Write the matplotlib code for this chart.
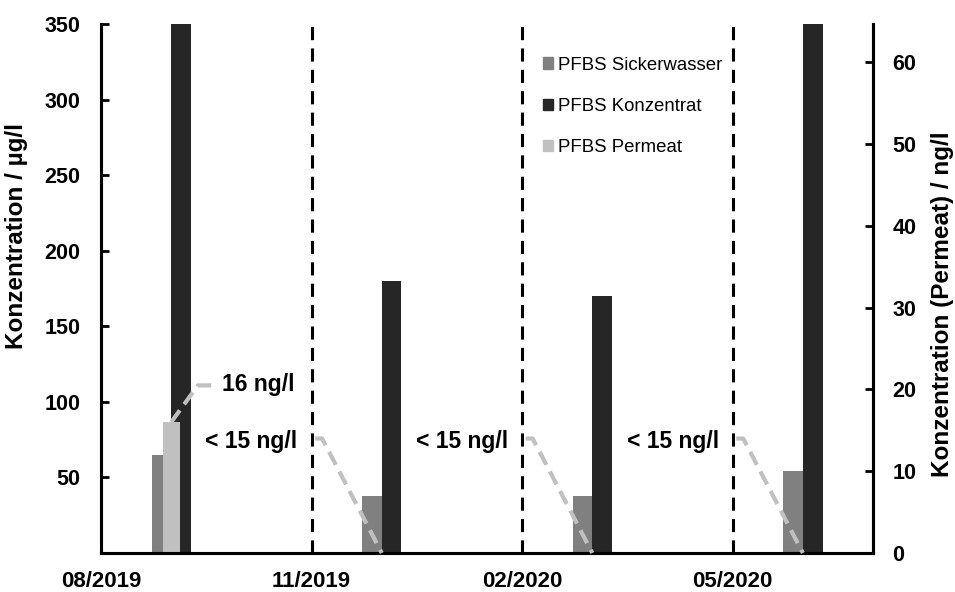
import matplotlib
matplotlib.use("Agg")
import matplotlib.pyplot as plt
from matplotlib.patches import Patch

plt.rcParams['font.family'] = ['Liberation Sans', 'DejaVu Sans']

# months since 08/2019
sample_month = [1, 4, 7, 10]
sickerwasser = [65, 38, 38, 54]        # µg/l
konzentrat = [350, 180, 170, 350]      # µg/l
permeat = [16, 0, 0, 0]                # ng/l
tick_month = [0, 3, 6, 9]
tick_labels = ["08/2019", "11/2019", "02/2020", "05/2020"]
note_labels = ["16 ng/l", "< 15 ng/l", "< 15 ng/l", "< 15 ng/l"]

c_sicker = '#808080'
c_konz = '#262626'
c_perm = '#c0c0c0'

fig = plt.figure(figsize=(9.55, 5.92), dpi=100)
ax = fig.add_axes([0.1058, 0.0659, 0.8084, 0.8936])
ax2 = ax.twinx()

w = 0.28
ax.bar([m - w / 2 for m in sample_month], sickerwasser, width=w, color=c_sicker, zorder=2)
ax.bar([m + w / 2 for m in sample_month], konzentrat, width=w, color=c_konz, zorder=2)
ax2.bar(sample_month, permeat, width=0.24, color=c_perm, zorder=2)

ax.set_xlim(0, 11)
ax.set_ylim(0, 350)
ax2.set_ylim(0, 64.7)

# dashed separators
for m in tick_month[1:]:
    ax.axvline(m, color='black', lw=2.2, linestyle=(0, (4.3, 2.7)), zorder=1)

ax.set_xticks(tick_month)
ax.set_xticklabels(tick_labels)
ax.set_yticks([50, 100, 150, 200, 250, 300, 350])
ax2.set_yticks([0, 10, 20, 30, 40, 50, 60])

ax.tick_params(axis='x', length=0, pad=13, labelsize=16)
ax.tick_params(axis='y', direction='in', length=6, width=2, pad=15, labelsize=15.5)
ax2.tick_params(axis='y', direction='in', length=6, width=2, pad=14, labelsize=15.5)
for lab in ax.get_xticklabels() + ax.get_yticklabels() + ax2.get_yticklabels():
    lab.set_fontweight('bold')

for a in (ax, ax2):
    a.spines['top'].set_visible(False)
    for s in ('left', 'right', 'bottom'):
        a.spines[s].set_linewidth(2.2)

ax.set_ylabel("Konzentration / µg/l", fontsize=17.5, fontweight='bold')
ax.yaxis.set_label_coords(-0.095, 0.60)
ax2.set_ylabel("Konzentration (Permeat) / ng/l", fontsize=17.5, fontweight='bold')
ax2.yaxis.set_label_coords(1.075, 0.47)

# leader lines and notes for Permeat
lead = dict(color=c_perm, lw=3, linestyle=(0, (3.5, 1.8)), zorder=3, clip_on=False)
ax2.plot([1.0, 1.38, 1.58], [16, 20.5, 20.5], **lead)
ax2.text(1.72, 20.6, note_labels[0], ha='left', va='center', fontsize=16.5, fontweight='bold')
for m, lab in zip(sample_month[1:], note_labels[1:]):
    ax2.plot([m - 0.95, m - 0.85, m], [14, 14, 0], **lead)
    ax2.text(m - 1.2, 13.6, lab, ha='right', va='center', fontsize=16.5, fontweight='bold')

handles = [Patch(color=c_sicker, label='PFBS Sickerwasser'),
           Patch(color=c_konz, label='PFBS Konzentrat'),
           Patch(color=c_perm, label='PFBS Permeat')]
fig.legend(handles=handles, loc='upper left', bbox_to_anchor=(0.5585, 0.92),
           frameon=False, fontsize=13.4, handlelength=0.55, handleheight=0.55,
           handletextpad=0.25, labelspacing=1.3, borderpad=0)

fig.savefig("out.png", dpi=100)
